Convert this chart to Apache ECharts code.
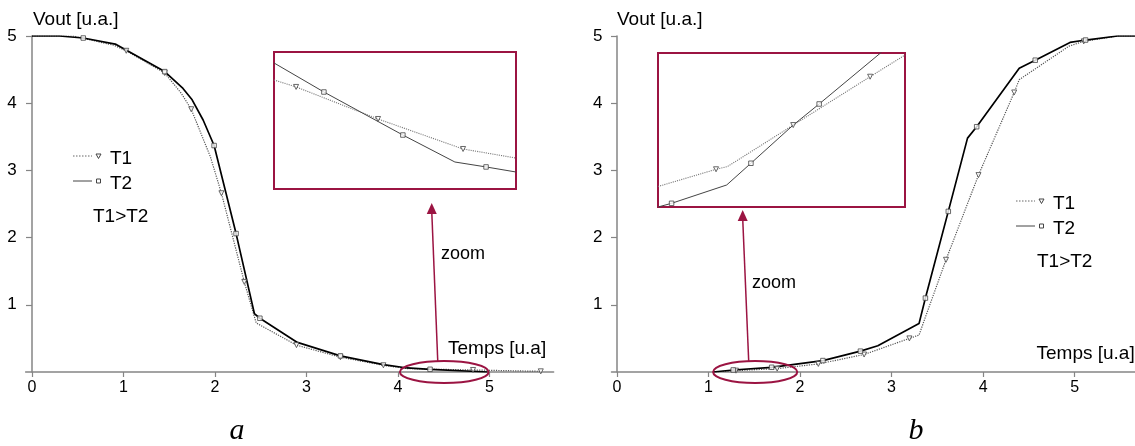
<!DOCTYPE html>
<html><head><meta charset="utf-8">
<script src="https://cdn.jsdelivr.net/npm/echarts@6/dist/echarts.min.js"></script>
<style>html,body{margin:0;padding:0;background:#fff}#c{width:1135px;height:446px}</style>
</head><body><div id="c"></div>
<script>
// ---------- tick labels ----------
const xTickValues = [0, 1, 2, 3, 4, 5];
const yTickValues = [1, 2, 3, 4, 5];
const seriesNames = ['T1', 'T2'];

// ---------- panel a : main curves (x = Temps, y = Vout) ----------
const aT1Marks = [[1.03,4.78],[1.45,4.45],[1.74,3.91],[2.07,2.66],[2.32,1.34],[2.89,0.40],[3.37,0.22],[3.84,0.10],[4.82,0.03],[5.56,0.01]];
const aT1Bends = [[0,5],[0.45,5.0],[0.9,4.86],[1.63,4.15],[1.95,3.2],[2.45,0.73],[4.1,0.05]];
const aT2Marks = [[0.56,4.97],[1.45,4.47],[1.99,3.37],[2.23,2.06],[2.49,0.80],[3.37,0.24],[4.35,0.04]];
const aT2Bends = [[0,5],[0.3,5.0],[0.91,4.88],[1.65,4.22],[1.75,4.05],[1.87,3.75],[2.43,0.87],[2.9,0.44],[3.84,0.11],[4.1,0.06],[4.98,0.0]];
// panel a : zoomed region (inset)
const aInsetT1Marks = [[4.173,0.0745],[4.444,0.0511],[4.725,0.0292]];
const aInsetT1Bends = [[4.1,0.0796],[4.9,0.0226]];
const aInsetT2Marks = [[4.265,0.0708],[4.526,0.0394],[4.801,0.0161]];
const aInsetT2Bends = [[4.1,0.092],[4.698,0.0197],[4.9,0.0124]];
const aZoomRange = [4.02, 4.99];

// ---------- panel b : main curves ----------
const bT1Marks = [[1.3,0.02],[1.75,0.05],[2.2,0.12],[2.7,0.26],[3.195,0.50],[3.595,1.67],[3.95,2.93],[4.34,4.16],[5.10,4.92]];
const bT1Bends = [[1.05,0],[3.30,0.55],[4.395,4.35],[4.94,4.85],[5.47,5.0],[5.66,5.0]];
const bT2Marks = [[1.27,0.03],[1.69,0.07],[2.25,0.17],[2.66,0.31],[3.37,1.10],[3.62,2.39],[3.93,3.65],[4.57,4.64],[5.12,4.94]];
const bT2Bends = [[1.05,0],[2.85,0.39],[3.30,0.72],[3.83,3.48],[4.395,4.52],[4.95,4.905],[5.47,5.0],[5.66,5.0]];
// panel b : zoomed region (inset)
const bInsetT1Marks = [[1.288,0.0245],[1.538,0.0532],[1.787,0.0846]];
const bInsetT1Bends = [[1.1,0.0133],[1.3245,0.0262],[1.9,0.0987]];
const bInsetT2Marks = [[1.144,0.0024],[1.401,0.0284],[1.622,0.0669]];
const bInsetT2Bends = [[1.1,0.0],[1.3225,0.0143],[1.538,0.0532],[1.9,0.1132]];
const bZoomRange = [1.05, 1.97];

// ---------- texts ----------
const yName = 'Vout [u.a.]';
const xName = 'Temps [u.a]';
const relation = 'T1>T2';
const zoomText = 'zoom';
const panelLabels = ['a', 'b'];

// ---------- styling ----------
const FONT = '"Liberation Sans", Arial, sans-serif';
const CRIMSON = '#9b1442';
const AXIS = '#858585';

function curve(marks, bends) { return marks.concat(bends).sort((p, q) => p[0] - q[0]); }

const chart = echarts.init(document.getElementById('c'), null, { renderer: 'canvas' });

const grids = [
  { left: 25.6, top: 36, width: 528, height: 336 },
  { left: 274, top: 52, width: 242, height: 137, show: true, borderColor: CRIMSON, borderWidth: 2, backgroundColor: '#fff', z: 5 },
  { left: 611.5, top: 36, width: 524.5, height: 336 },
  { left: 658, top: 53, width: 247, height: 154, show: true, borderColor: CRIMSON, borderWidth: 2, backgroundColor: '#fff', z: 5 }
];

function mainX(gi, min, max) {
  return {
    gridIndex: gi, type: 'value', min: min, max: max,
    axisLine: { show: true, onZero: false, lineStyle: { color: AXIS, width: 1.5 } },
    axisTick: { show: true, length: 5, customValues: xTickValues, lineStyle: { color: AXIS, width: 1.2 } },
    axisLabel: { show: true, customValues: xTickValues, fontSize: 16, color: '#000', fontFamily: FONT, margin: 8 },
    splitLine: { show: false }
  };
}
function mainY(gi) {
  return {
    gridIndex: gi, type: 'value', min: 0, max: 5, interval: 1,
    axisLine: { show: true, onZero: true, lineStyle: { color: AXIS, width: 1.5 } },
    axisTick: { show: true, length: 6, customValues: yTickValues, lineStyle: { color: AXIS, width: 1.2 } },
    axisLabel: { show: true, customValues: yTickValues, fontSize: 17, color: '#000', fontFamily: FONT, margin: 9 },
    splitLine: { show: false }
  };
}
function insetAxis(gi, min, max) {
  return { gridIndex: gi, type: 'value', min: min, max: max, show: false, splitLine: { show: false } };
}

const xAxes = [mainX(0, -0.07, 5.7), insetAxis(1, 4.1, 4.9), mainX(2, -0.06, 5.66), insetAxis(3, 1.1, 1.9)];
const yAxes = [mainY(0), insetAxis(1, 0, 0.1), mainY(2), insetAxis(3, 0, 0.1)];

const T1_MAIN = { color: '#555', width: 1.2, type: 'dotted' };
const T2_MAIN = { color: '#000', width: 1.7, type: 'solid' };
const T1_INSET = { color: '#777', width: 1.1, type: 'dotted' };
const T2_INSET = { color: '#444', width: 1, type: 'solid' };

function lineS(name, data, idx, ls, z) {
  return { name: name, type: 'line', xAxisIndex: idx, yAxisIndex: idx, data: data, showSymbol: false,
           lineStyle: ls, itemStyle: { color: ls.color }, silent: true, animation: false, z: z, clip: true };
}
function markS(name, data, idx, kind, z) {
  const tri = kind === 'T1';
  return { name: name, type: 'scatter', xAxisIndex: idx, yAxisIndex: idx, data: data,
           symbol: tri ? 'triangle' : 'rect', symbolRotate: tri ? 180 : 0, symbolSize: tri ? 5 : 4.5,
           itemStyle: { color: '#fff', borderColor: '#444', borderWidth: 1 }, silent: true, animation: false, z: z };
}

const series = [
  lineS('T1', curve(aT1Marks, aT1Bends), 0, T1_MAIN, 2),
  lineS('T2', curve(aT2Marks, aT2Bends), 0, T2_MAIN, 3),
  markS('T1', aT1Marks, 0, 'T1', 4),
  markS('T2', aT2Marks, 0, 'T2', 4),
  lineS('T1', curve(aInsetT1Marks, aInsetT1Bends), 1, T1_INSET, 6),
  lineS('T2', curve(aInsetT2Marks, aInsetT2Bends), 1, T2_INSET, 6),
  markS('T1', aInsetT1Marks, 1, 'T1', 7),
  markS('T2', aInsetT2Marks, 1, 'T2', 7),
  lineS('T1', curve(bT1Marks, bT1Bends), 2, T1_MAIN, 2),
  lineS('T2', curve(bT2Marks, bT2Bends), 2, T2_MAIN, 3),
  markS('T1', bT1Marks, 2, 'T1', 4),
  markS('T2', bT2Marks, 2, 'T2', 4),
  lineS('T1', curve(bInsetT1Marks, bInsetT1Bends), 3, T1_INSET, 6),
  lineS('T2', curve(bInsetT2Marks, bInsetT2Bends), 3, T2_INSET, 6),
  markS('T1', bInsetT1Marks, 3, 'T1', 7),
  markS('T2', bInsetT2Marks, 3, 'T2', 7)
];

chart.setOption({
  animation: false,
  backgroundColor: '#fff',
  grid: grids,
  xAxis: xAxes,
  yAxis: yAxes,
  series: series
});

// ---------- annotations ----------
function txt(x, y, s, size, extra) {
  return Object.assign({ type: 'text', x: x, y: y, z: 20,
    style: { text: s, fill: '#000', font: size + 'px ' + FONT, textVerticalAlign: 'middle', textAlign: 'left' } }, extra || {});
}
function legend(x, y) {
  const out = [];
  seriesNames.forEach((n, i) => {
    const yy = y + i * 25;
    out.push({ type: 'line', z: 20, shape: { x1: x, y1: yy, x2: x + 19, y2: yy },
      style: { stroke: i === 0 ? '#666' : '#444', lineWidth: 1, lineDash: i === 0 ? [1.5, 1.5] : null } });
    if (i === 0) {
      out.push({ type: 'polygon', z: 20, shape: { points: [[x + 23, yy - 2], [x + 28, yy - 2], [x + 25.5, yy + 2.5]] },
        style: { fill: '#fff', stroke: '#444', lineWidth: 1 } });
    } else {
      out.push({ type: 'rect', z: 20, shape: { x: x + 23.5, y: yy - 2, width: 4, height: 4 },
        style: { fill: '#fff', stroke: '#444', lineWidth: 1 } });
    }
    out.push(txt(x + 37, yy + 3, n, 19));
  });
  return out;
}

function zoomMarks(idx, range, insetBottom, tipGap, labelPos) {
  const p0 = chart.convertToPixel({ xAxisIndex: idx, yAxisIndex: idx }, [range[0], 0]);
  const p1 = chart.convertToPixel({ xAxisIndex: idx, yAxisIndex: idx }, [range[1], 0]);
  const cx = (p0[0] + p1[0]) / 2, cy = p0[1], rx = (p1[0] - p0[0]) / 2, ry = 11;
  const bx = cx - 6.5, by = cy - ry;
  const tx = cx - 12.5, ty = insetBottom + tipGap;
  return [
    { type: 'ellipse', z: 15, shape: { cx: cx, cy: cy, rx: rx, ry: ry }, style: { fill: 'none', stroke: CRIMSON, lineWidth: 2 } },
    { type: 'line', z: 15, shape: { x1: bx, y1: by, x2: tx, y2: ty + 8 }, style: { stroke: CRIMSON, lineWidth: 1.5 } },
    { type: 'polygon', z: 15, shape: { points: [[tx, ty], [tx - 5, ty + 11], [tx + 5, ty + 11]] }, style: { fill: CRIMSON } },
    txt(labelPos[0], labelPos[1], zoomText, 18)
  ];
}

const graphics = []
  .concat([txt(33, 20, yName, 19), txt(617, 20, yName, 19)])
  .concat([txt(448, 349, xName, 19), txt(1036.5, 354, xName, 19)])
  .concat(legend(73, 156))
  .concat(legend(1016, 201))
  .concat([txt(93, 217, relation, 19), txt(1037, 262, relation, 19)])
  .concat(zoomMarks(0, aZoomRange, 189, 14, [441, 254]))
  .concat(zoomMarks(2, bZoomRange, 207, 3, [752, 283]))
  .concat([
    { type: 'text', x: 237, y: 446, z: 20, style: { text: panelLabels[0], fill: '#000', font: 'italic 30px "Liberation Serif", "Times New Roman", serif', textAlign: 'center', textVerticalAlign: 'bottom' } },
    { type: 'text', x: 916, y: 446, z: 20, style: { text: panelLabels[1], fill: '#000', font: 'italic 30px "Liberation Serif", "Times New Roman", serif', textAlign: 'center', textVerticalAlign: 'bottom' } }
  ]);

chart.setOption({ graphic: graphics });
</script></body></html>
